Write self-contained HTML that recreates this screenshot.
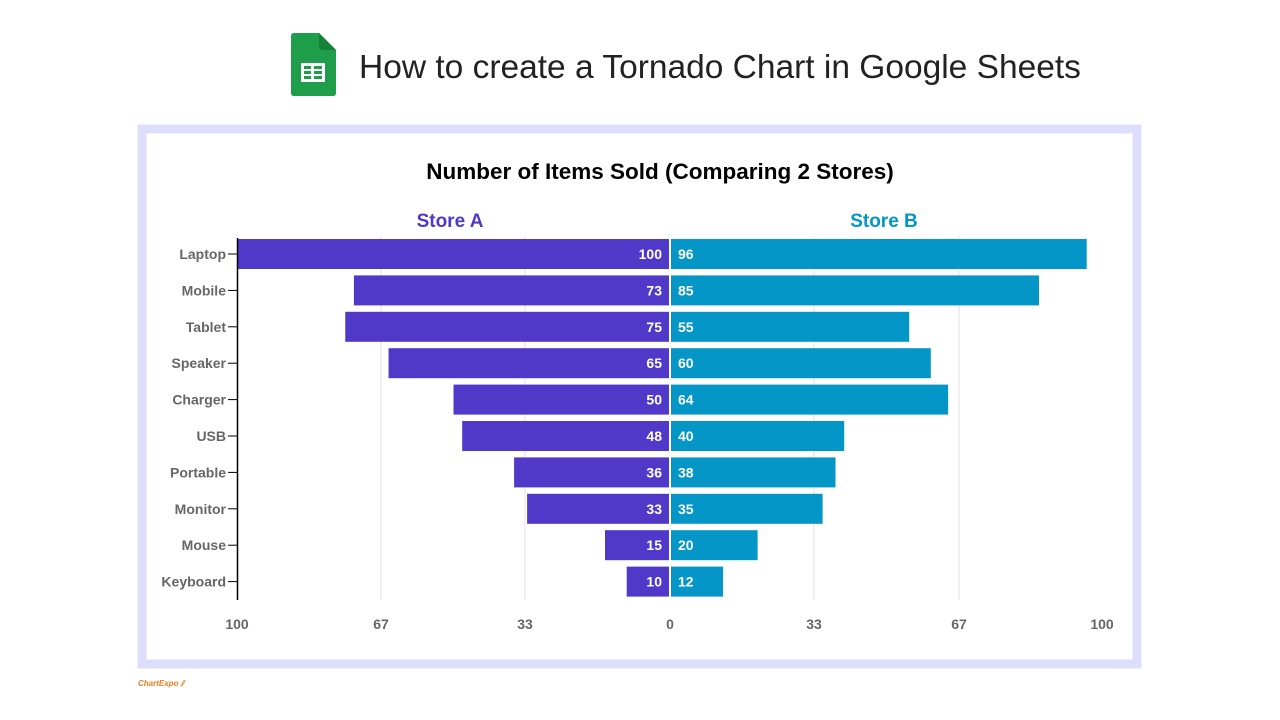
<!DOCTYPE html>
<html><head><meta charset="utf-8"><style>
html,body{margin:0;padding:0;background:#fff;}
svg{display:block;font-family:"Liberation Sans",Arial,sans-serif;}
</style></head><body>
<svg width="1280" height="720" viewBox="0 0 1280 720">
<rect width="1280" height="720" fill="#fff"/>
<path d="M294,33 H319 L336,50 V93 Q336,96 333,96 H294 Q291,96 291,93 V36 Q291,33 294,33 Z" fill="#1e9e4a"/>
<path d="M319,33 L336,50 H322 Q319,50 319,47 Z" fill="#158037"/>
<rect x="301" y="63" width="24" height="19" fill="#fff"/>
<g fill="#1e9e4a"><rect x="304" y="66" width="7" height="3"/><rect x="314" y="66" width="8" height="3"/><rect x="304" y="71" width="7" height="3"/><rect x="314" y="71" width="8" height="3"/><rect x="304" y="76" width="7" height="3"/><rect x="314" y="76" width="8" height="3"/></g>
<text x="359" y="78" font-size="33.5" fill="#222">How to create a Tornado Chart in Google Sheets</text>
<rect x="142" y="129" width="995" height="535" fill="#fff" stroke="#dedefc" stroke-width="9"/>
<text x="660" y="179" font-size="22.5" font-weight="bold" text-anchor="middle" fill="#000">Number of Items Sold (Comparing 2 Stores)</text>
<text x="450" y="227" font-size="19" font-weight="bold" text-anchor="middle" fill="#5038c8">Store A</text>
<text x="884" y="227" font-size="19" font-weight="bold" text-anchor="middle" fill="#0396c6">Store B</text>
<g stroke="#e2e2e2" stroke-width="1">
<line x1="381" y1="236" x2="381" y2="600"/><line x1="525" y1="236" x2="525" y2="600"/>
<line x1="814" y1="236" x2="814" y2="600"/><line x1="959" y1="236" x2="959" y2="600"/>
</g>
<g fill="#5038c8">
<rect x="237" y="239" width="432" height="30"/>
<rect x="353.9" y="275.4" width="315.1" height="30"/>
<rect x="345.25" y="311.8" width="323.75" height="30"/>
<rect x="388.55" y="348.2" width="280.45" height="30"/>
<rect x="453.5" y="384.6" width="215.5" height="30"/>
<rect x="462.2" y="421" width="206.8" height="30"/>
<rect x="514.1" y="457.4" width="154.9" height="30"/>
<rect x="527.1" y="493.8" width="141.9" height="30"/>
<rect x="605" y="530.2" width="64" height="30"/>
<rect x="626.7" y="566.6" width="42.3" height="30"/>
</g>
<g fill="#0396c6">
<rect x="671" y="239" width="415.7" height="30"/>
<rect x="671" y="275.4" width="368" height="30"/>
<rect x="671" y="311.8" width="238.2" height="30"/>
<rect x="671" y="348.2" width="259.8" height="30"/>
<rect x="671" y="384.6" width="277.1" height="30"/>
<rect x="671" y="421" width="173.2" height="30"/>
<rect x="671" y="457.4" width="164.5" height="30"/>
<rect x="671" y="493.8" width="151.6" height="30"/>
<rect x="671" y="530.2" width="86.6" height="30"/>
<rect x="671" y="566.6" width="52" height="30"/>
</g>
<g font-size="14" font-weight="bold" fill="#fff" text-anchor="end">
<text x="662" y="259">100</text><text x="662" y="295.4">73</text><text x="662" y="331.8">75</text><text x="662" y="368.2">65</text><text x="662" y="404.6">50</text><text x="662" y="441">48</text><text x="662" y="477.4">36</text><text x="662" y="513.8">33</text><text x="662" y="550.2">15</text><text x="662" y="586.6">10</text>
</g>
<g font-size="14" font-weight="bold" fill="#fff">
<text x="678" y="259">96</text><text x="678" y="295.4">85</text><text x="678" y="331.8">55</text><text x="678" y="368.2">60</text><text x="678" y="404.6">64</text><text x="678" y="441">40</text><text x="678" y="477.4">38</text><text x="678" y="513.8">35</text><text x="678" y="550.2">20</text><text x="678" y="586.6">12</text>
</g>
<g font-size="14" font-weight="bold" fill="#666" text-anchor="end">
<text x="226" y="259">Laptop</text><text x="226" y="295.4">Mobile</text><text x="226" y="331.8">Tablet</text><text x="226" y="368.2">Speaker</text><text x="226" y="404.6">Charger</text><text x="226" y="441">USB</text><text x="226" y="477.4">Portable</text><text x="226" y="513.8">Monitor</text><text x="226" y="550.2">Mouse</text><text x="226" y="586.6">Keyboard</text>
</g>
<g stroke="#000" stroke-width="1">
<line x1="228" y1="254" x2="237" y2="254"/><line x1="228" y1="290.4" x2="237" y2="290.4"/><line x1="228" y1="326.8" x2="237" y2="326.8"/><line x1="228" y1="363.2" x2="237" y2="363.2"/><line x1="228" y1="399.6" x2="237" y2="399.6"/><line x1="228" y1="436" x2="237" y2="436"/><line x1="228" y1="472.4" x2="237" y2="472.4"/><line x1="228" y1="508.8" x2="237" y2="508.8"/><line x1="228" y1="545.2" x2="237" y2="545.2"/><line x1="228" y1="581.6" x2="237" y2="581.6"/>
</g>
<line x1="237.5" y1="238" x2="237.5" y2="600" stroke="#000" stroke-width="1.5"/>
<g font-size="14" font-weight="bold" fill="#666" text-anchor="middle">
<text x="237" y="629">100</text><text x="381" y="629">67</text><text x="525" y="629">33</text><text x="670" y="629">0</text><text x="814" y="629">33</text><text x="959" y="629">67</text><text x="1102" y="629">100</text>
</g>
<text x="138" y="686" font-size="8" font-weight="bold" font-style="italic" fill="#f07b20">ChartExpo ⫽</text>
</svg>
</body></html>
